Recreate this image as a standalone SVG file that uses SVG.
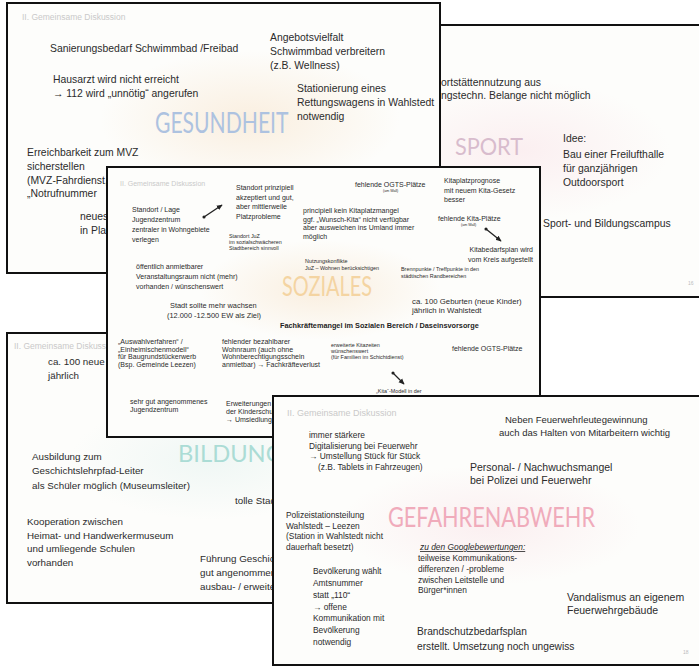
<svg xmlns="http://www.w3.org/2000/svg" width="699" height="668" viewBox="0 0 699 668">
<defs>
<style>
.slide{fill:#fdfdfb;stroke:#111;stroke-width:2}
text{font-family:"Liberation Sans",Arial,sans-serif;fill:#2b2b2b}
.hdr{fill:#c9c9c9}
.m{font-size:10.4px}
.b{font-size:9.8px}
.s{font-size:7px}
.xs{font-size:5.4px}
.xxs{font-size:3.6px}
.g{font-size:8.4px}
.pg{font-size:5px;fill:#bbb}
.title{font-family:Lato,"Liberation Sans",Arial,sans-serif;font-weight:400}
.t-ges{fill:#adc2e0}
.t-spo{fill:#d8bccd}
.t-soz{fill:#f4d4a2}
.t-bil{fill:#abdcd5}
.t-gef{fill:#f0abbb}
.bold{font-weight:bold;fill:#1e1e1e}
.conn{stroke:#222;stroke-width:1.3;fill:none}
</style>
<radialGradient id="wash1" cx="0.5" cy="0.5" r="0.5"><stop offset="0" stop-color="#f7e3c9" stop-opacity="0.55"/><stop offset="1" stop-color="#f7e3c9" stop-opacity="0"/></radialGradient>
<radialGradient id="wash2" cx="0.5" cy="0.5" r="0.5"><stop offset="0" stop-color="#f9e1e6" stop-opacity="0.5"/><stop offset="1" stop-color="#f9e1e6" stop-opacity="0"/></radialGradient>
<radialGradient id="wash3" cx="0.5" cy="0.5" r="0.5"><stop offset="0" stop-color="#e2f1ee" stop-opacity="0.5"/><stop offset="1" stop-color="#e2f1ee" stop-opacity="0"/></radialGradient>
<marker id="arr" viewBox="0 0 10 10" refX="8" refY="5" markerWidth="5" markerHeight="5" orient="auto"><path d="M0,1 L9,5 L0,9 z" fill="#222"/></marker>
<marker id="dot" viewBox="0 0 10 10" refX="5" refY="5" markerWidth="3" markerHeight="3"><circle cx="5" cy="5" r="4" fill="#222"/></marker>
</defs>
<rect width="699" height="668" fill="#ffffff"/>

<g id="slide-sport">
<rect class="slide" x="300" y="25" width="420" height="272"/>
<ellipse cx="520" cy="150" rx="150" ry="70" fill="url(#wash2)"/>
<text class="m" x="441" y="86">ortstättennutzung aus</text>
<text class="m" x="441" y="99">ngstechn. Belange nicht möglich</text>
<text class="title t-spo" x="455" y="155" font-size="24" textLength="68" lengthAdjust="spacingAndGlyphs">SPORT</text>
<text class="m" x="563" y="142">Idee:</text>
<text class="m" x="563" y="158">Bau einer Freilufthalle</text>
<text class="m" x="563" y="172">für ganzjährigen</text>
<text class="m" x="563" y="186">Outdoorsport</text>
<text class="m" x="543" y="227">Sport- und Bildungscampus</text>
<text class="pg" x="688" y="285">16</text>
</g>

<g id="slide-gesundheit">
<rect class="slide" x="7" y="3" width="433" height="270"/>
<ellipse cx="250" cy="120" rx="150" ry="70" fill="url(#wash1)"/>
<text class="hdr" x="22" y="20" font-size="8.5">II. Gemeinsame Diskussion</text>
<text class="m" x="50" y="52">Sanierungsbedarf Schwimmbad /Freibad</text>
<text class="m" x="53" y="83">Hausarzt wird nicht erreicht</text>
<text class="m" x="53" y="97">→ 112 wird „unnötig“ angerufen</text>
<text class="m" x="270" y="41">Angebotsvielfalt</text>
<text class="m" x="270" y="55">Schwimmbad verbreitern</text>
<text class="m" x="270" y="69">(z.B. Wellness)</text>
<text class="m" x="297" y="92">Stationierung eines</text>
<text class="m" x="297" y="106">Rettungswagens in Wahlstedt</text>
<text class="m" x="297" y="120">notwendig</text>
<text class="title t-ges" transform="translate(155,133) scale(0.75,1)" x="0" y="0" font-size="29" textLength="178" lengthAdjust="spacingAndGlyphs">GESUNDHEIT</text>
<text class="m" x="27" y="156">Erreichbarkeit zum MVZ</text>
<text class="m" x="27" y="170">sicherstellen</text>
<text class="m" x="27" y="184">(MVZ-Fahrdienst,</text>
<text class="m" x="27" y="197">„Notrufnummer</text>
<text class="m" x="80" y="220">neues</text>
<text class="m" x="80" y="234">in Planung</text>
</g>

<g id="slide-bildung">
<rect class="slide" x="7" y="333" width="443" height="270"/>
<ellipse cx="210" cy="460" rx="140" ry="60" fill="url(#wash3)"/>
<text class="hdr" x="14" y="349" font-size="8.5">II. Gemeinsame Diskussion</text>
<text class="b" x="48" y="365">ca. 100 neue</text>
<text class="b" x="48" y="379">jährlich</text>
<text class="title t-bil" x="178" y="462" font-size="24" textLength="105" lengthAdjust="spacingAndGlyphs">BILDUNG</text>
<text class="b" x="32" y="460">Ausbildung zum</text>
<text class="b" x="32" y="474">Geschichtslehrpfad-Leiter</text>
<text class="b" x="32" y="489">als Schüler möglich (Museumsleiter)</text>
<text class="b" x="235" y="504">tolle Stadtbücherei</text>
<text class="b" x="27" y="525">Kooperation zwischen</text>
<text class="b" x="27" y="539">Heimat- und Handwerkermuseum</text>
<text class="b" x="27" y="552">und umliegende Schulen</text>
<text class="b" x="27" y="566">vorhanden</text>
<text class="b" x="200" y="562">Führung Geschichtslehrpfad</text>
<text class="b" x="200" y="576">gut angenommen,</text>
<text class="b" x="200" y="590">ausbau- / erweiterbar</text>
</g>

<g id="slide-soziales">
<rect class="slide" x="107" y="167" width="433" height="270"/>
<ellipse cx="320" cy="290" rx="120" ry="50" fill="url(#wash1)"/>
<text class="hdr" x="120" y="186" font-size="7">II. Gemeinsame Diskussion</text>
<text class="s" x="236" y="190">Standort prinzipiell</text>
<text class="s" x="236" y="199.5">akzeptiert und gut,</text>
<text class="s" x="236" y="209">aber mittlerweile</text>
<text class="s" x="236" y="218.5">Platzprobleme</text>
<text class="s" x="132" y="212">Standort / Lage</text>
<text class="s" x="132" y="222">Jugendzentrum</text>
<text class="s" x="132" y="232">zentraler in Wohngebiete</text>
<text class="s" x="132" y="242">verlegen</text>
<text class="xs" x="229" y="238">Standort JuZ</text>
<text class="xs" x="229" y="244">im sozialschwächeren</text>
<text class="xs" x="229" y="250">Stadtbereich sinnvoll</text>
<text class="s" x="355" y="187">fehlende OGTS-Plätze</text>
<text class="xxs" x="383" y="192">(am Wall)</text>
<text class="s" x="444" y="183">Kitaplatzprognose</text>
<text class="s" x="444" y="192.5">mit neuem Kita-Gesetz</text>
<text class="s" x="444" y="202">besser</text>
<text class="s" x="303" y="213">principiell kein Kitaplatzmangel</text>
<text class="s" x="303" y="221.5">ggf. „Wunsch-Kita“ nicht verfügbar</text>
<text class="s" x="303" y="230">aber ausweichen ins Umland immer</text>
<text class="s" x="303" y="238.5">möglich</text>
<text class="s" x="438" y="221">fehlende Kita-Plätze</text>
<text class="xxs" x="461" y="226">(am Wall)</text>
<text class="s" x="533" y="252" text-anchor="end">Kitabedarfsplan wird</text>
<text class="s" x="533" y="262" text-anchor="end">vom Kreis aufgestellt</text>
<text class="xs" x="305" y="263">Nutzungskonflikte</text>
<text class="xs" x="305" y="270">JuZ – Wohnen berücksichtigen</text>
<text class="xs" x="401" y="271">Brennpunkte / Treffpunkte in den</text>
<text class="xs" x="401" y="278">städtischen Randbereichen</text>
<text class="s" x="136" y="269">öffentlich anmietbarer</text>
<text class="s" x="136" y="279">Veranstaltungsraum nicht (mehr)</text>
<text class="s" x="136" y="289">vorhanden / wünschenswert</text>
<text class="title t-soz" x="282" y="296" font-size="26" textLength="90" lengthAdjust="spacingAndGlyphs">SOZIALES</text>
<text x="412" y="304" font-size="7.8">ca. 100 Geburten (neue Kinder)</text>
<text x="412" y="313" font-size="7.8">jährlich in Wahlstedt</text>
<text x="170" y="308" font-size="7.4">Stadt sollte mehr wachsen</text>
<text x="167" y="318" font-size="7.4">(12.000 -12.500 EW als Ziel)</text>
<text class="bold" x="280" y="328" font-size="7.3">Fachkräftemangel im Sozialen Bereich / Daseinsvorsorge</text>
<text class="s" x="118" y="344">„Auswahlverfahren“ /</text>
<text class="s" x="118" y="351.5">„Einheimischenmodell“</text>
<text class="s" x="118" y="359">für Baugrundstückerwerb</text>
<text class="s" x="118" y="366.5">(Bsp. Gemeinde Leezen)</text>
<text class="s" x="222" y="344">fehlender bezahlbarer</text>
<text class="s" x="222" y="351.5">Wohnraum (auch ohne</text>
<text class="s" x="222" y="359">Wohnberechtigungsschein</text>
<text class="s" x="222" y="366.5">anmietbar) → Fachkräfteverlust</text>
<text class="xs" x="331" y="347">erweiterte Kitazeiten</text>
<text class="xs" x="331" y="353">wünschenswert</text>
<text class="xs" x="331" y="359">(für Familien im Schichtdienst)</text>
<text class="s" x="452" y="351">fehlende OGTS-Plätze</text>
<text class="xs" x="376" y="393">„Kita“-Modell in der</text>
<text class="s" x="130" y="404">sehr gut angenommenes</text>
<text class="s" x="130" y="412">Jugendzentrum</text>
<text class="s" x="226" y="406">Erweiterungen</text>
<text class="s" x="226" y="414">der Kinderschutz</text>
<text class="s" x="226" y="422">→ Umsiedlung</text>
</g>

<g id="connectors">
<line class="conn" x1="204" y1="217" x2="222" y2="205" marker-start="url(#dot)" marker-end="url(#arr)"/>
<line class="conn" x1="486" y1="229" x2="501" y2="241" marker-start="url(#dot)" marker-end="url(#arr)"/>
<line class="conn" x1="393" y1="373" x2="404" y2="384" marker-start="url(#dot)" marker-end="url(#arr)"/>
</g>

<g id="slide-gefahrenabwehr">
<rect class="slide" x="273" y="396" width="440" height="269"/>
<ellipse cx="490" cy="525" rx="150" ry="60" fill="url(#wash2)"/>
<text class="hdr" x="287" y="416" font-size="9">II. Gemeinsame Diskussion</text>
<text x="505" y="423" font-size="9.5">Neben Feuerwehrleutegewinnung</text>
<text x="499" y="436" font-size="9.5">auch das Halten von Mitarbeitern wichtig</text>
<text class="g" x="309" y="438">immer stärkere</text>
<text class="g" x="309" y="448.5">Digitalisierung bei Feuerwehr</text>
<text class="g" x="309" y="459">→ Umstellung Stück für Stück</text>
<text class="g" x="318" y="469.5">(z.B. Tablets in Fahrzeugen)</text>
<text x="470" y="471" font-size="10.5">Personal- / Nachwuchsmangel</text>
<text x="470" y="484" font-size="10.5">bei Polizei und Feuerwehr</text>
<text class="title t-gef" x="388" y="527" font-size="27" textLength="207" lengthAdjust="spacingAndGlyphs">GEFAHRENABWEHR</text>
<text class="g" x="286" y="518">Polizeistationsteilung</text>
<text class="g" x="286" y="528.5">Wahlstedt – Leezen</text>
<text class="g" x="286" y="539">(Station in Wahlstedt nicht</text>
<text class="g" x="286" y="549.5">dauerhaft besetzt)</text>
<text class="g" x="313" y="574">Bevölkerung wählt</text>
<text class="g" x="313" y="586">Amtsnummer</text>
<text class="g" x="313" y="598">statt „110“</text>
<text class="g" x="313" y="610">→ offene</text>
<text class="g" x="313" y="621">Kommunikation mit</text>
<text class="g" x="313" y="633">Bevölkerung</text>
<text class="g" x="313" y="645">notwendig</text>
<text class="g" x="420" y="550" font-style="italic" text-decoration="underline">zu den Googlebewertungen:</text>
<text class="g" x="418" y="561">teilweise Kommunikations-</text>
<text class="g" x="418" y="572">differenzen / -probleme</text>
<text class="g" x="418" y="583">zwischen Leitstelle und</text>
<text class="g" x="418" y="593">Bürger*innen</text>
<text x="567" y="601" font-size="10.5">Vandalismus an eigenem</text>
<text x="567" y="614" font-size="10.5">Feuerwehrgebäude</text>
<text x="417" y="635" font-size="10.2">Brandschutzbedarfsplan</text>
<text x="417" y="650" font-size="10.2">erstellt. Umsetzung noch ungewiss</text>
<text class="pg" x="683" y="654">18</text>
</g>
</svg>
